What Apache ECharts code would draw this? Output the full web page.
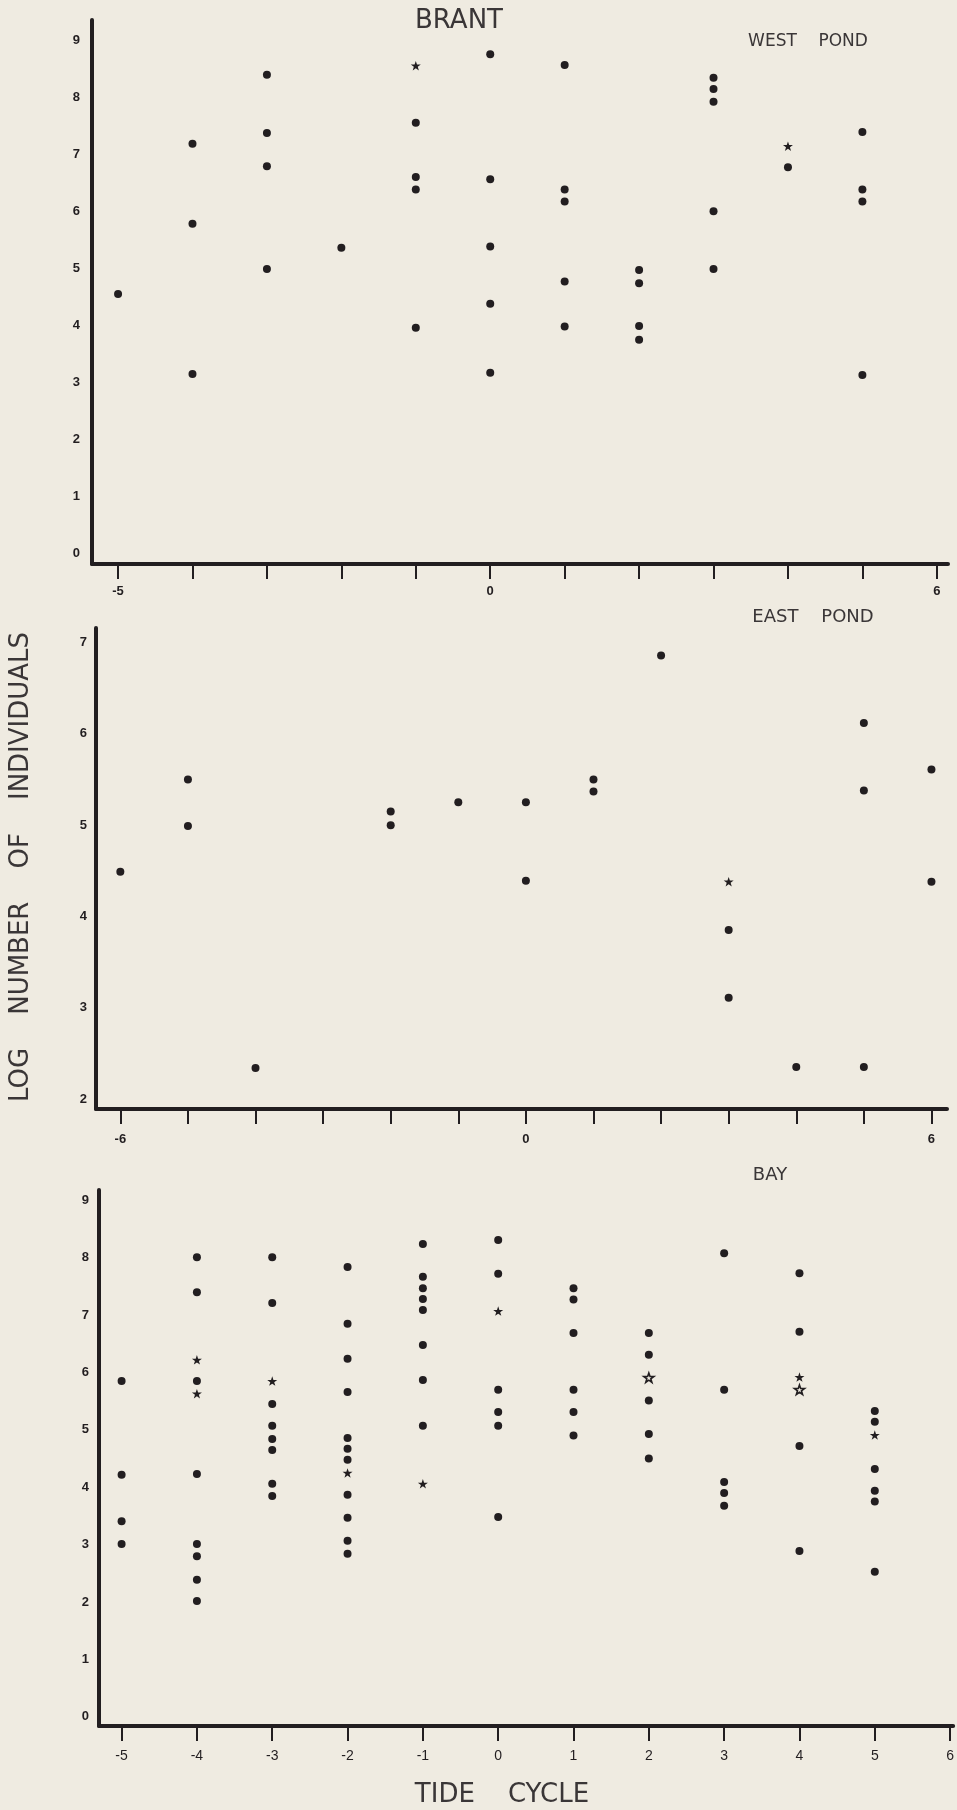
<!DOCTYPE html>
<html>
<head>
<meta charset="utf-8">
<script src="https://cdn.jsdelivr.net/npm/echarts@6/dist/echarts.min.js"></script>
<style>
html, body { margin: 0; padding: 0; background: #efebe1; }
#chart { width: 957px; height: 1810px; }
</style>
</head>
<body>
<div id="chart"></div>
<script>
// West Pond (top panel)
var westDots = [
  [-5, 4.55],
  [-4, 7.18], [-4, 5.78], [-4, 3.15],
  [-3, 8.39], [-3, 7.37], [-3, 6.79], [-3, 4.99],
  [-2, 5.36],
  [-1, 7.55], [-1, 6.60], [-1, 6.38], [-1, 3.96],
  [0, 8.75], [0, 6.56], [0, 5.38], [0, 4.38], [0, 3.17],
  [1, 8.56], [1, 6.38], [1, 6.17], [1, 4.77], [1, 3.98],
  [2, 4.97], [2, 4.74], [2, 3.99], [2, 3.75],
  [3, 8.34], [3, 8.14], [3, 7.92], [3, 6.00], [3, 4.99],
  [4, 6.77],
  [5, 7.39], [5, 6.38], [5, 6.17], [5, 3.13]
];
var westStars = [[-1, 8.55], [4, 7.14]];

// East Pond (middle panel)
var eastDots = [
  [-6, 4.49],
  [-5, 5.50], [-5, 4.99],
  [-4, 2.34],
  [-2, 5.15], [-2, 5.00],
  [-1, 5.25],
  [0, 5.25], [0, 4.39],
  [1, 5.50], [1, 5.37],
  [2, 6.86],
  [3, 3.85], [3, 3.11],
  [4, 2.35],
  [5, 6.12], [5, 5.38], [5, 2.35],
  [6, 5.61], [6, 4.38]
];
var eastStars = [[3, 4.38]];

// Bay (bottom panel)
var bayDots = [
  [-5, 5.85], [-5, 4.22], [-5, 3.41], [-5, 3.01],
  [-4, 8.01], [-4, 7.40], [-4, 5.85], [-4, 4.23], [-4, 3.01], [-4, 2.80], [-4, 2.39], [-4, 2.02],
  [-3, 8.01], [-3, 7.21], [-3, 5.45], [-3, 5.07], [-3, 4.84], [-3, 4.65], [-3, 4.06], [-3, 3.85],
  [-2, 7.84], [-2, 6.85], [-2, 6.24], [-2, 5.66], [-2, 4.86], [-2, 4.67], [-2, 4.48], [-2, 3.87], [-2, 3.47], [-2, 3.07], [-2, 2.84],
  [-1, 8.24], [-1, 7.67], [-1, 7.47], [-1, 7.28], [-1, 7.09], [-1, 6.48], [-1, 5.87], [-1, 5.07],
  [0, 8.31], [0, 7.72], [0, 5.70], [0, 5.31], [0, 5.07], [0, 3.48],
  [1, 7.47], [1, 7.27], [1, 6.69], [1, 5.70], [1, 5.31], [1, 4.90],
  [2, 6.69], [2, 6.31], [2, 5.51], [2, 4.93], [2, 4.50],
  [3, 8.08], [3, 5.70], [3, 4.09], [3, 3.90], [3, 3.68],
  [4, 7.73], [4, 6.71], [4, 4.72], [4, 2.89],
  [5, 5.33], [5, 5.14], [5, 4.32], [5, 3.94], [5, 3.75], [5, 2.53]
];
var bayStars = [[-4, 6.22], [-4, 5.63], [-3, 5.85], [-2, 4.25], [-1, 4.06], [0, 7.07], [4, 5.92], [5, 4.91]];
var bayOpenStars = [[2, 5.91], [4, 5.70]];

// ticks and labels
var westYLabels = [0, 1, 2, 3, 4, 5, 6, 7, 8, 9];
var westXTicks = [-5, -4, -3, -2, -1, 0, 1, 2, 3, 4, 5, 6];
var westXLabels = [-5, 0, 6];
var eastYLabels = [2, 3, 4, 5, 6, 7];
var eastXTicks = [-6, -5, -4, -3, -2, -1, 0, 1, 2, 3, 4, 5, 6];
var eastXLabels = [-6, 0, 6];
var bayYLabels = [0, 1, 2, 3, 4, 5, 6, 7, 8, 9];
var bayXTicks = [-5, -4, -3, -2, -1, 0, 1, 2, 3, 4, 5, 6];
var bayXLabels = [-5, -4, -3, -2, -1, 0, 1, 2, 3, 4, 5, 6];

var ink = '#221e20';
var paper = '#efebe1';
var star = 'path://M12,0L14.9,8.6L24,8.6L16.7,14L19.4,22.8L12,17.5L4.6,22.8L7.3,14L0,8.6L9.1,8.6Z';

function xAxis(grid, min, max, ticks, labels, margin, font) {
  return {
    type: 'value', gridIndex: grid, min: min, max: max,
    axisLine: { onZero: false, lineStyle: { color: ink, width: 4 } },
    axisTick: { show: true, customValues: ticks, length: 15, lineStyle: { color: ink, width: 2 } },
    axisLabel: { customValues: labels, margin: margin, color: ink, fontSize: font.size,
      fontWeight: font.weight, fontFamily: 'Liberation Sans' },
    splitLine: { show: false }
  };
}

function yAxis(grid, min, max, labels, margin) {
  return {
    type: 'value', gridIndex: grid, min: min, max: max,
    axisLine: { show: true, onZero: false, lineStyle: { color: ink, width: 4 } },
    axisTick: { show: false },
    axisLabel: { customValues: labels, margin: margin, color: ink, fontSize: 13,
      fontWeight: 'bold', fontFamily: 'Liberation Sans' },
    splitLine: { show: false }
  };
}

function dots(idx, data) {
  return { type: 'scatter', xAxisIndex: idx, yAxisIndex: idx, data: data,
    symbol: 'circle', symbolSize: 8, itemStyle: { color: ink, opacity: 1 } };
}

function stars(idx, data, open) {
  return { type: 'scatter', xAxisIndex: idx, yAxisIndex: idx, data: data,
    symbol: star, symbolKeepAspect: true, symbolSize: 10,
    itemStyle: open ? { color: paper, borderColor: ink, borderWidth: 1.6, opacity: 1 }
                    : { color: ink, opacity: 1 } };
}

function label(text, x, y, size, rot) {
  return { type: 'text', x: x, y: y, rotation: rot || 0,
    style: { text: text, fill: '#3a3637', font: size + 'px "DejaVu Sans"',
      textAlign: 'center', textVerticalAlign: 'middle' } };
}

var chart = echarts.init(document.getElementById('chart'), null, { renderer: 'canvas' });
chart.setOption({
  backgroundColor: paper,
  animation: false,
  grid: [
    { left: 92, top: 20, width: 856, height: 544 },
    { left: 96, top: 628, width: 851, height: 481 },
    { left: 99, top: 1190, width: 856, height: 536 }
  ],
  xAxis: [
    xAxis(0, -5.35, 6.15, westXTicks, westXLabels, 21, { size: 13, weight: 'bold' }),
    xAxis(1, -6.36, 6.23, eastXTicks, eastXLabels, 24, { size: 13, weight: 'bold' }),
    xAxis(2, -5.3, 6.04, bayXTicks, bayXLabels, 23, { size: 14, weight: 'normal' })
  ],
  yAxis: [
    yAxis(0, -0.18, 9.35, westYLabels, 12),
    yAxis(1, 1.89, 7.16, eastYLabels, 9),
    yAxis(2, -0.16, 9.18, bayYLabels, 10)
  ],
  series: [
    dots(0, westDots), stars(0, westStars, false),
    dots(1, eastDots), stars(1, eastStars, false),
    dots(2, bayDots), stars(2, bayStars, false), stars(2, bayOpenStars, true)
  ],
  graphic: [
    label('BRANT', 459, 21, 26),
    label('WEST    POND', 808, 42, 17),
    label('EAST    POND', 813, 617, 18),
    label('BAY', 770, 1175, 18),
    label('TIDE    CYCLE', 502, 1795, 26),
    label('LOG    NUMBER    OF    INDIVIDUALS', 21, 867, 26, Math.PI / 2)
  ]
});
</script>
</body>
</html>
